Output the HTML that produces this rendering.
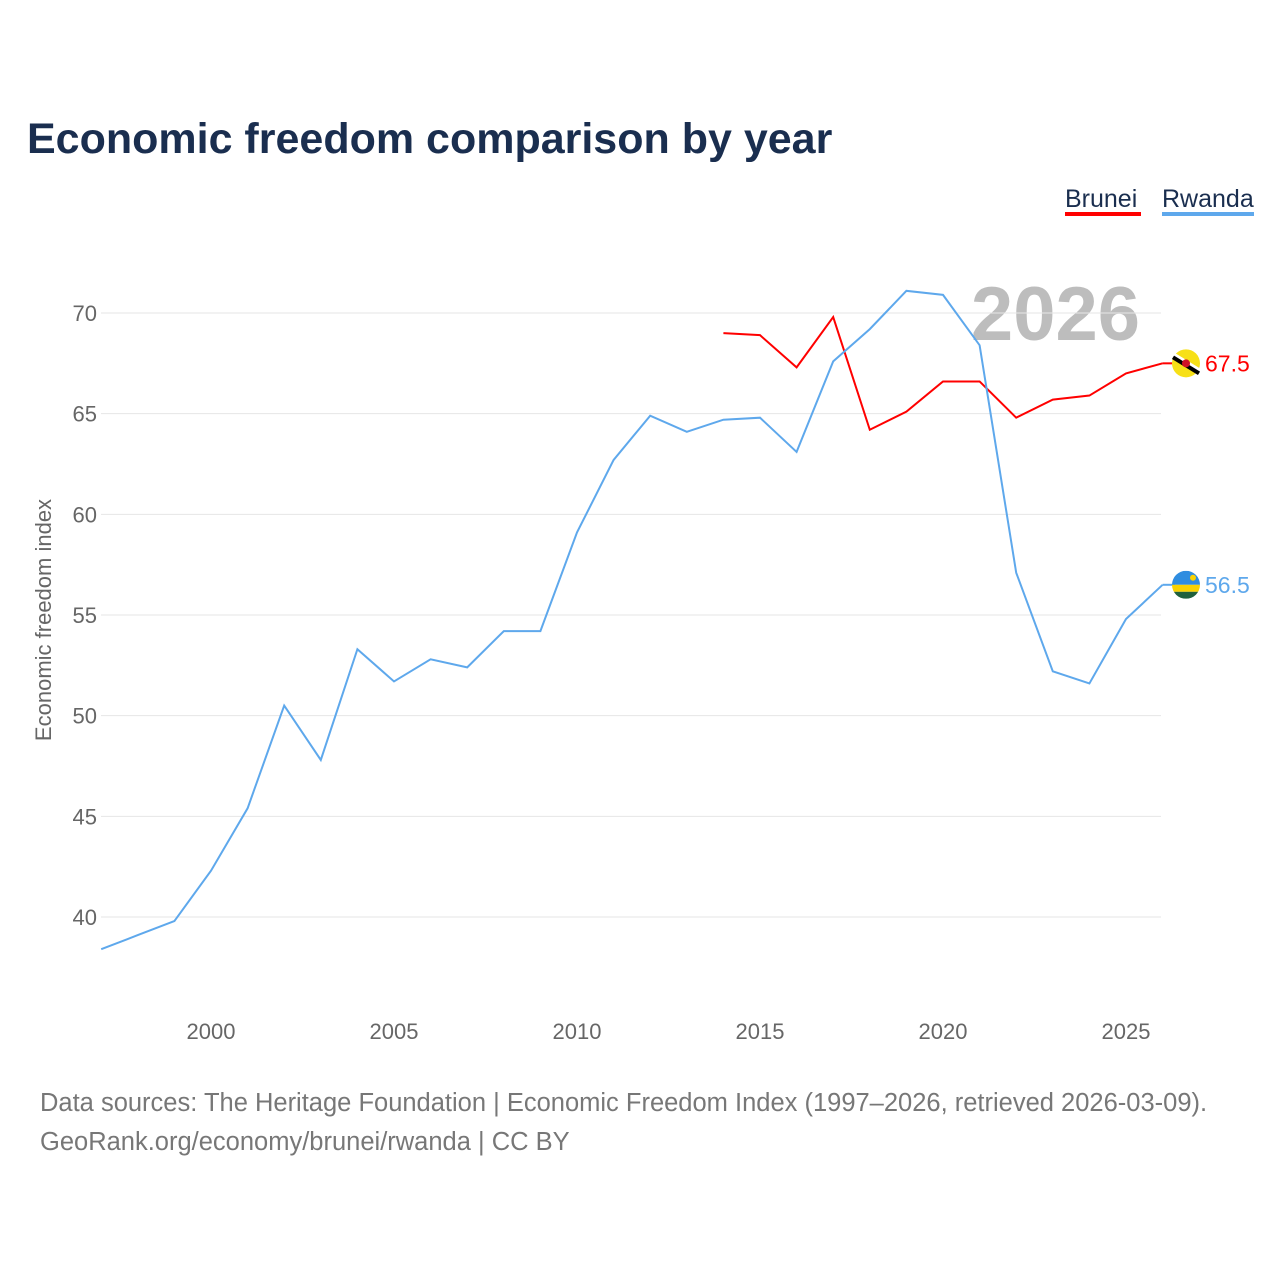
<!DOCTYPE html>
<html><head><meta charset="utf-8"><style>
body{margin:0;background:#fff;font-family:"Liberation Sans",sans-serif;}
#wrap{position:relative;width:1280px;height:1280px;overflow:hidden;}
</style></head><body>
<div id="wrap">
<svg id="chart" width="1280" height="1280" xmlns="http://www.w3.org/2000/svg">
<text x="27" y="153" font-size="43" font-weight="bold" fill="#1a2e4f" font-family="Liberation Sans, sans-serif">Economic freedom comparison by year</text>
<g><text x="1065" y="207" font-size="25" fill="#1a2e4f">Brunei</text><rect x="1065" y="212" width="76" height="4" fill="#ff0000"/></g>
<g><text x="1162" y="207" font-size="25" fill="#1a2e4f">Rwanda</text><rect x="1162" y="212" width="92" height="4" fill="#5ea8ec"/></g>
<text x="1140" y="340" text-anchor="end" font-size="76" font-weight="bold" fill="#bdbdbd">2026</text>
<text transform="translate(51,620) rotate(-90)" text-anchor="middle" font-size="22" fill="#666">Economic freedom index</text>
<g id="grid"></g><g id="series"></g>
<text x="40" y="1111" font-size="25.5" fill="#777">Data sources: The Heritage Foundation | Economic Freedom Index (1997–2026, retrieved 2026-03-09).</text>
<text x="40" y="1150" font-size="25.5" fill="#777">GeoRank.org/economy/brunei/rwanda | CC BY</text>
</svg></div>
<script>
const years=[1997,1998,1999,2000,2001,2002,2003,2004,2005,2006,2007,2008,2009,2010,2011,2012,2013,2014,2015,2016,2017,2018,2019,2020,2021,2022,2023,2024,2025,2026];
const rwanda=[38.4,39.1,39.8,42.3,45.4,50.5,47.8,53.3,51.7,52.8,52.4,54.2,54.2,59.1,62.7,64.9,64.1,64.7,64.8,63.1,67.6,69.2,71.1,70.9,68.4,57.1,52.2,51.6,54.8,56.5];
const bruneiYears=[2014,2015,2016,2017,2018,2019,2020,2021,2022,2023,2024,2025,2026];
const brunei=[69.0,68.9,67.3,69.8,64.2,65.1,66.6,66.6,64.8,65.7,65.9,67.0,67.5];
const yTicks=[40,45,50,55,60,65,70];
const xTicks=[2000,2005,2010,2015,2020,2025];
const NS="http://www.w3.org/2000/svg";
const X=y=>101.2+(y-1997)*(1162.6-101.2)/29;
const Y=v=>917-(v-40)*(917-313)/30;
const grid=document.getElementById('grid'),ser=document.getElementById('series');
function mk(tag,attrs,parent){const e=document.createElementNS(NS,tag);for(const k in attrs)e.setAttribute(k,attrs[k]);parent.appendChild(e);return e;}
yTicks.forEach(t=>{
 const l=mk('line',{x1:101,x2:1161,y1:Y(t),y2:Y(t),stroke:'#e6e6e6','stroke-width':1},grid);
 
 
 const tx=mk('text',{x:97,y:Y(t)+8,'text-anchor':'end','font-size':22,fill:'#666'},grid);tx.textContent=t;
 
 
});
xTicks.forEach(t=>{
 const tx=mk('text',{x:X(t),y:1039,'text-anchor':'middle','font-size':22,fill:'#666'},grid);tx.textContent=t;
 
 
});
function line(xs,vs,color,name){
 const p=mk('polyline',{points:xs.map((y,i)=>X(y)+','+Y(vs[i])).join(' '),fill:'none',stroke:color,'stroke-width':2},ser);
 
 
 const lv=vs[vs.length-1],ly=Y(lv);
 mk('line',{x1:X(xs[xs.length-1]),x2:1175,y1:ly,y2:ly,stroke:color,'stroke-width':2},ser);
 const t=mk('text',{x:1205,y:ly+8,'font-size':23,fill:color},ser);t.textContent=lv.toFixed(1);
 
 
 return ly;
}
const by=line(bruneiYears,brunei,'#ff0000','brunei');
const ry=line(years,rwanda,'#5ea8ec','rwanda');
const bf=mk('g',{},ser);


mk('circle',{cx:1186,cy:by,r:14,fill:'#f7e017'},bf);
mk('line',{x1:1173,y1:by-8,x2:1199,y2:by+8,stroke:'#fff','stroke-width':6},bf);
mk('line',{x1:1173,y1:by-6,x2:1199,y2:by+10,stroke:'#000','stroke-width':4},bf);
mk('circle',{cx:1186,cy:by,r:4,fill:'#cf1126'},bf);
const rf=mk('g',{},ser);


mk('clipPath',{id:'rc'},rf);
mk('circle',{cx:1186,cy:ry,r:14},document.getElementById('rc'));
const g=mk('g',{'clip-path':'url(#rc)'},rf);
mk('rect',{x:1172,y:ry-14,width:28,height:14,fill:'#2f8de0'},g);
mk('rect',{x:1172,y:ry,width:28,height:7,fill:'#fad201'},g);
mk('rect',{x:1172,y:ry+7,width:28,height:7,fill:'#20603d'},g);
mk('circle',{cx:1193,cy:ry-7,r:3,fill:'#fad201'},g);
</script>
</body></html>
